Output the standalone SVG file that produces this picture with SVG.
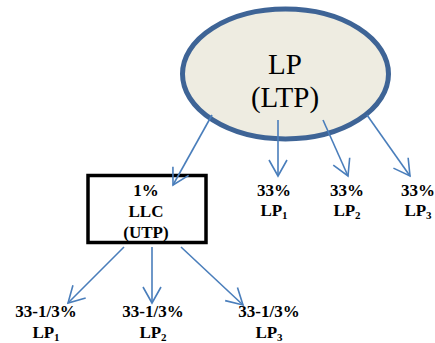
<svg xmlns="http://www.w3.org/2000/svg" width="435" height="343" viewBox="0 0 435 343" font-family="Liberation Serif, Times New Roman, serif">
<defs>
<marker id="ah" viewBox="0 0 20 20" refX="18" refY="10" markerWidth="20" markerHeight="20" markerUnits="userSpaceOnUse" orient="auto">
<path d="M2,1 L18,10 L2,19" fill="none" stroke="#4a7ebb" stroke-width="1.6"/>
</marker>
</defs>
<rect width="435" height="343" fill="#fff"/>
<g id="LP">
<ellipse cx="285.5" cy="74" rx="103" ry="65" fill="#eeece1" stroke="#3e6496" stroke-width="5"/>
<text x="285" y="74" style="font-family:'Liberation Serif',serif" font-size="29" text-anchor="middle">LP</text>
<text x="285" y="107" style="font-family:'Liberation Serif',serif" font-size="29" text-anchor="middle">(LTP)</text>
</g>
<g id="LLC">
<rect x="88" y="175.5" width="118" height="67" fill="#fff" stroke="#000" stroke-width="3.5"/>
<text x="146" y="196" style="font-family:'Liberation Serif',serif" font-size="17" font-weight="bold" text-anchor="middle">1%</text>
<text x="146" y="217" style="font-family:'Liberation Serif',serif" font-size="17" font-weight="bold" text-anchor="middle">LLC</text>
<text x="146" y="238" style="font-family:'Liberation Serif',serif" font-size="17" font-weight="bold" text-anchor="middle">(UTP)</text>
</g>
<g id="LP1top">
<text x="274" y="196" style="font-family:'Liberation Serif',serif" font-size="17" font-weight="bold" text-anchor="middle">33%</text>
<text x="274" y="216" style="font-family:'Liberation Serif',serif" font-size="17" font-weight="bold" text-anchor="middle">LP<tspan font-size="11" dy="3">1</tspan></text>
</g>
<g id="LP2top">
<text x="347" y="196" style="font-family:'Liberation Serif',serif" font-size="17" font-weight="bold" text-anchor="middle">33%</text>
<text x="347" y="216" style="font-family:'Liberation Serif',serif" font-size="17" font-weight="bold" text-anchor="middle">LP<tspan font-size="11" dy="3">2</tspan></text>
</g>
<g id="LP3top">
<text x="418" y="196" style="font-family:'Liberation Serif',serif" font-size="17" font-weight="bold" text-anchor="middle">33%</text>
<text x="418" y="216" style="font-family:'Liberation Serif',serif" font-size="17" font-weight="bold" text-anchor="middle">LP<tspan font-size="11" dy="3">3</tspan></text>
</g>
<g id="LP1bot">
<text x="46" y="317" style="font-family:'Liberation Serif',serif" font-size="17" font-weight="bold" text-anchor="middle">33-1/3%</text>
<text x="46" y="338" style="font-family:'Liberation Serif',serif" font-size="17" font-weight="bold" text-anchor="middle">LP<tspan font-size="11" dy="3">1</tspan></text>
</g>
<g id="LP2bot">
<text x="153" y="317" style="font-family:'Liberation Serif',serif" font-size="17" font-weight="bold" text-anchor="middle">33-1/3%</text>
<text x="153" y="338" style="font-family:'Liberation Serif',serif" font-size="17" font-weight="bold" text-anchor="middle">LP<tspan font-size="11" dy="3">2</tspan></text>
</g>
<g id="LP3bot">
<text x="269" y="317" style="font-family:'Liberation Serif',serif" font-size="17" font-weight="bold" text-anchor="middle">33-1/3%</text>
<text x="269" y="338" style="font-family:'Liberation Serif',serif" font-size="17" font-weight="bold" text-anchor="middle">LP<tspan font-size="11" dy="3">3</tspan></text>
</g>
<g id="connectors" stroke="#4a7ebb" stroke-width="1.6" fill="none" marker-end="url(#ah)">
<line x1="212" y1="115" x2="173" y2="185"/>
<line x1="278" y1="120" x2="278" y2="176"/>
<line x1="323" y1="120" x2="348" y2="176"/>
<line x1="367" y1="115" x2="410" y2="176"/>
<line x1="124" y1="247" x2="68" y2="303"/>
<line x1="152" y1="247" x2="152" y2="303"/>
<line x1="181" y1="247" x2="243" y2="305"/>
</g>
</svg>
